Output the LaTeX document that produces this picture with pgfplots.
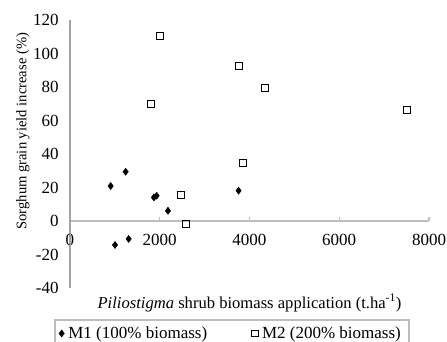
\documentclass[border=0pt]{standalone}
\usepackage{fontspec}
\setmainfont{Liberation Serif}
\usepackage{pgfplots}
\pgfplotsset{compat=1.18}
\definecolor{axgray}{RGB}{190,190,190}
\definecolor{ylgray}{RGB}{165,165,165}
\begin{document}
\fontsize{15.5}{18}\selectfont
\begin{tikzpicture}[x=1pt,y=1pt]
\begin{axis}[
  at={(70pt,-288pt)}, anchor=south west,
  scale only axis, width=359pt, height=268pt,
  xmin=0, xmax=8000, ymin=-40, ymax=120,
  clip=false,
  axis x line=middle, axis y line=left,
  x axis line style={-, draw=axgray, line width=1.1pt},
  y axis line style={-, draw=ylgray, line width=1.3pt},
  hide obscured x ticks=false,
  xtick={0,2000,4000,6000,8000},
  ytick={-40,-20,0,20,40,60,80,100,120},
  xtick style={draw=axgray, line width=1.1pt, yshift=2pt},
  ytick style={draw=none},
  major tick length=4pt,
  scaled x ticks=false,
  /pgf/number format/assume math mode=true,
  /pgf/number format/1000 sep={},
  tick label style={font=\fontsize{17}{19}\selectfont},
  xticklabel style={yshift=-6pt},
  yticklabel style={xshift=-4pt},
  every axis x label/.style={at={(axis description cs:0.5,0)}, anchor=center, yshift=-15pt, font=\fontsize{16.6}{19}\selectfont},
  every axis y label/.style={at={(axis description cs:-0.131,0.585)}, anchor=center, rotate=90, font=\fontsize{14.6}{17}\selectfont},
  xlabel={\textit{Piliostigma} shrub biomass application (t.ha\textsuperscript{-1})},
  ylabel={Sorghum grain yield increase (\%)},
  legend columns=2,
  legend style={at={(axis description cs:0.451,-0.116)}, anchor=north,
    draw=axgray, line width=1.6pt, font=\fontsize{17}{19}\selectfont,
    inner ysep=4.5pt, inner xsep=4pt, nodes={inner xsep=4pt},
    /tikz/every even column/.append style={column sep=40pt}},
  legend cell align=left,
]
\draw[ylgray, line width=1.2pt, xshift=0.5pt] (axis cs:0,-40) -- (axis cs:0,120);
\addplot[only marks, mark=diamond*, mark size=3.6pt, black, mark options={fill=black, line width=0.4pt}]
coordinates {(906,20.9) (1003,-14.3) (1240,29.4) (1307,-10.7) (1870,14.1) (1930,15.1) (2183,6.1) (3757,18.1)};
\addlegendentry{M1 (100\% biomass)}
\addplot[only marks, mark=square, mark size=3.4pt, black, mark options={fill=white, line width=0.7pt}]
coordinates {(1805,69.9) (2004,110.4) (2472,15.5) (2583,-1.8) (3770,92.5) (3853,34.6) (4343,79.4) (7506,66.3)};
\addlegendentry{M2 (200\% biomass)}
\end{axis}
\pgfresetboundingbox
\path[use as bounding box] (0,0) rectangle (447,-342);
\end{tikzpicture}
\end{document}
